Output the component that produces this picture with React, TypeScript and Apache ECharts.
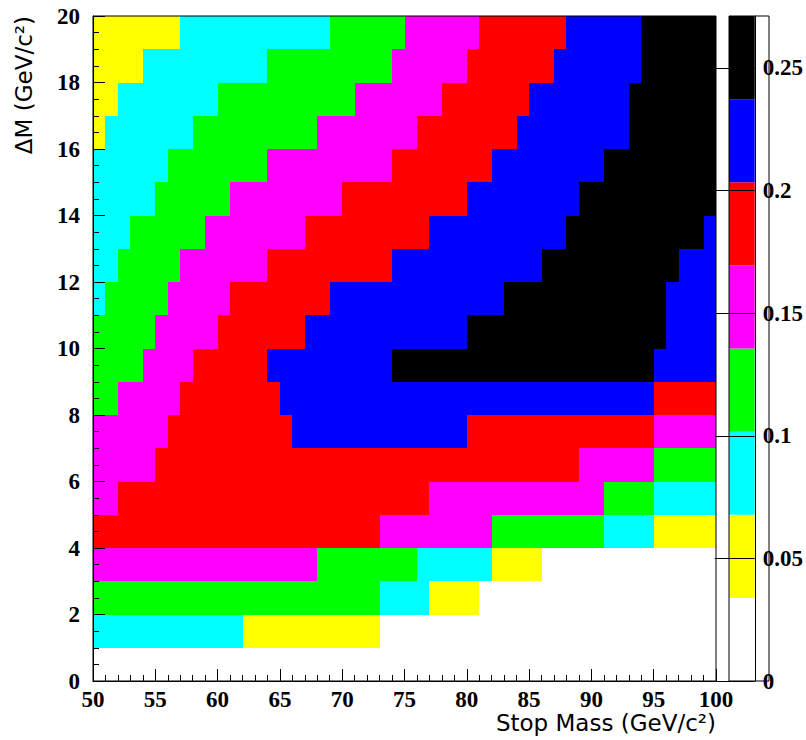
import { useEffect, useRef } from "react";
import * as echarts from "echarts";

// Colour palette of the z-axis (8 contour bands)
const paletteColors = ["#ffffff", "#ffff00", "#00ffff", "#00ff00", "#ff00ff", "#ff0000", "#0000ff", "#000000"];
const contourLevels = [0, 0.0339, 0.0678, 0.1017, 0.1356, 0.1695, 0.2034, 0.2373, 0.2712];
// estimated value of a cell in each band
const levelValues = [0, 0.05, 0.085, 0.12, 0.15, 0.185, 0.22, 0.255];

const deltaMEdges = [0, 1, 2, 3, 4, 5, 6, 7, 8, 9, 10, 11, 12, 13, 14, 15, 16, 17, 18, 19, 20];

// runs per ΔM bin: [stop mass from, stop mass to, band]
const dm00 = [[50, 100, 0]];
const dm01 = [[50, 62, 2], [62, 73, 1], [73, 100, 0]];
const dm02 = [[50, 73, 3], [73, 77, 2], [77, 81, 1], [81, 100, 0]];
const dm03 = [[50, 68, 4], [68, 76, 3], [76, 82, 2], [82, 86, 1], [86, 100, 0]];
const dm04 = [[50, 73, 5], [73, 82, 4], [82, 91, 3], [91, 95, 2], [95, 100, 1]];
const dm05 = [[50, 52, 4], [52, 77, 5], [77, 91, 4], [91, 95, 3], [95, 100, 2]];
const dm06 = [[50, 55, 4], [55, 89, 5], [89, 95, 4], [95, 100, 3]];
const dm07 = [[50, 56, 4], [56, 66, 5], [66, 80, 6], [80, 95, 5], [95, 100, 4]];
const dm08 = [[50, 52, 3], [52, 57, 4], [57, 65, 5], [65, 95, 6], [95, 100, 5]];
const dm09 = [[50, 54, 3], [54, 58, 4], [58, 64, 5], [64, 74, 6], [74, 95, 7], [95, 100, 6]];
const dm10 = [[50, 55, 3], [55, 60, 4], [60, 67, 5], [67, 80, 6], [80, 96, 7], [96, 100, 6]];
const dm11 = [[50, 51, 2], [51, 56, 3], [56, 61, 4], [61, 69, 5], [69, 83, 6], [83, 96, 7], [96, 100, 6]];
const dm12 = [[50, 52, 2], [52, 57, 3], [57, 64, 4], [64, 74, 5], [74, 86, 6], [86, 97, 7], [97, 100, 6]];
const dm13 = [[50, 53, 2], [53, 59, 3], [59, 67, 4], [67, 77, 5], [77, 88, 6], [88, 99, 7], [99, 100, 6]];
const dm14 = [[50, 55, 2], [55, 61, 3], [61, 70, 4], [70, 80, 5], [80, 89, 6], [89, 100, 7]];
const dm15 = [[50, 56, 2], [56, 64, 3], [64, 74, 4], [74, 82, 5], [82, 91, 6], [91, 100, 7]];
const dm16 = [[50, 51, 1], [51, 58, 2], [58, 68, 3], [68, 76, 4], [76, 84, 5], [84, 93, 6], [93, 100, 7]];
const dm17 = [[50, 52, 1], [52, 60, 2], [60, 71, 3], [71, 78, 4], [78, 85, 5], [85, 93, 6], [93, 100, 7]];
const dm18 = [[50, 54, 1], [54, 64, 2], [64, 74, 3], [74, 80, 4], [80, 87, 5], [87, 94, 6], [94, 100, 7]];
const dm19 = [[50, 57, 1], [57, 69, 2], [69, 75, 3], [75, 81, 4], [81, 88, 5], [88, 94, 6], [94, 100, 7]];
const massRuns = [dm00, dm01, dm02, dm03, dm04, dm05, dm06, dm07, dm08, dm09, dm10, dm11, dm12, dm13, dm14, dm15, dm16, dm17, dm18, dm19];

const W = 806;
const H = 740;
const plot = { left: 93, top: 16, width: 623, height: 665 };
const bar = { left: 729, top: 16, width: 40, height: 665 };
const tickFont = { fontFamily: "Liberation Serif", fontWeight: "bold" as const, fontSize: 23, lineHeight: 22, color: "#000" };

export default function App() {
  const ref = useRef<HTMLDivElement>(null);
  useEffect(() => {
    if (!ref.current) return;
    const chart = echarts.init(ref.current, undefined, { renderer: "svg" });

    const cells: number[][] = [];
    massRuns.forEach((runs, j) => {
      runs.forEach(([m0, m1, lvl]) => {
        if (lvl > 0) cells.push([m0, m1, deltaMEdges[j], deltaMEdges[j + 1], levelValues[lvl]]);
      });
    });

    const pieces = paletteColors.map((c, k) => ({
      gte: contourLevels[k],
      lt: k === paletteColors.length - 1 ? 10 : contourLevels[k + 1],
      color: c,
    }));

    const barSeries = paletteColors.map((c, k) => ({
      type: "bar",
      xAxisIndex: 1,
      yAxisIndex: 1,
      stack: "palette",
      barWidth: "100%",
      silent: true,
      itemStyle: { color: c },
      data: [contourLevels[k + 1] - contourLevels[k]],
    }));

    chart.setOption({
      animation: false,
      backgroundColor: "#fff",
      grid: [
        { left: plot.left, top: plot.top, width: plot.width, height: plot.height },
        { left: bar.left, top: bar.top, width: bar.width, height: bar.height },
      ],
      xAxis: [
        {
          type: "value",
          gridIndex: 0,
          min: 50,
          max: 100,
          interval: 5,
          z: 10,
          axisLine: { show: true, lineStyle: { color: "#000", width: 1 } },
          axisTick: { show: true, inside: true, length: 12, lineStyle: { color: "#000" } },
          minorTick: { show: true, splitNumber: 5, length: 6, lineStyle: { color: "#000" } },
          splitLine: { show: false },
          axisLabel: { ...tickFont, margin: 7 },
        },
        {
          type: "category",
          gridIndex: 1,
          data: ["z"],
          show: false,
        },
      ],
      yAxis: [
        {
          type: "value",
          gridIndex: 0,
          min: 0,
          max: 20,
          interval: 2,
          z: 10,
          axisLine: { show: true, lineStyle: { color: "#000", width: 1 } },
          axisTick: { show: true, inside: true, length: 12, lineStyle: { color: "#000" } },
          minorTick: { show: true, splitNumber: 4, length: 6, lineStyle: { color: "#000" } },
          splitLine: { show: false },
          axisLabel: { ...tickFont, margin: 13 },
        },
        {
          type: "value",
          gridIndex: 1,
          position: "right",
          min: 0,
          max: contourLevels[contourLevels.length - 1],
          interval: 0.05,
          z: 10,
          axisLine: { show: true, lineStyle: { color: "#000", width: 1 } },
          axisTick: { show: true, inside: true, length: bar.width, lineStyle: { color: "#000" } },
          splitLine: { show: false },
          axisLabel: { ...tickFont, margin: 8, showMaxLabel: false },
        },
      ],
      visualMap: {
        type: "piecewise",
        show: false,
        seriesIndex: 0,
        dimension: 4,
        pieces,
      },
      series: [
        {
          type: "custom",
          xAxisIndex: 0,
          yAxisIndex: 0,
          silent: true,
          encode: { x: [0, 1], y: [2, 3] },
          data: cells,
          renderItem: (_params: any, api: any) => {
            const p0 = api.coord([api.value(0), api.value(3)]);
            const p1 = api.coord([api.value(1), api.value(2)]);
            const x = Math.round(p0[0]);
            const y = Math.round(p0[1]);
            return {
              type: "rect",
              shape: { x, y, width: Math.round(p1[0]) - x, height: Math.round(p1[1]) - y },
              style: { fill: api.visual("color"), stroke: null },
            };
          },
        },
        ...barSeries,
      ],
      graphic: [
        {
          type: "rect",
          z: 100,
          silent: true,
          shape: { x: plot.left, y: plot.top, width: plot.width, height: plot.height },
          style: { fill: "none", stroke: "#000", lineWidth: 1 },
        },
        {
          type: "rect",
          z: 100,
          silent: true,
          shape: { x: bar.left, y: bar.top, width: bar.width, height: bar.height },
          style: { fill: "none", stroke: "#000", lineWidth: 1 },
        },
        {
          type: "text",
          z: 100,
          x: plot.left + plot.width,
          y: 723,
          style: {
            text: "Stop Mass (GeV/c²)",
            font: '23px "DejaVu Sans"',
            lineHeight: 24,
            fill: "#000",
            align: "right",
            verticalAlign: "middle",
          },
        },
        {
          type: "text",
          z: 100,
          x: 24,
          y: plot.top,
          rotation: Math.PI / 2,
          style: {
            text: "ΔM (GeV/c²)",
            font: '23px "DejaVu Sans"',
            fill: "#000",
            align: "right",
            verticalAlign: "middle",
          },
        },
      ],
    });
    return () => chart.dispose();
  }, []);
  return <div ref={ref} style={{ position: "fixed", left: 0, top: 0, width: W, height: H }} />;
}
